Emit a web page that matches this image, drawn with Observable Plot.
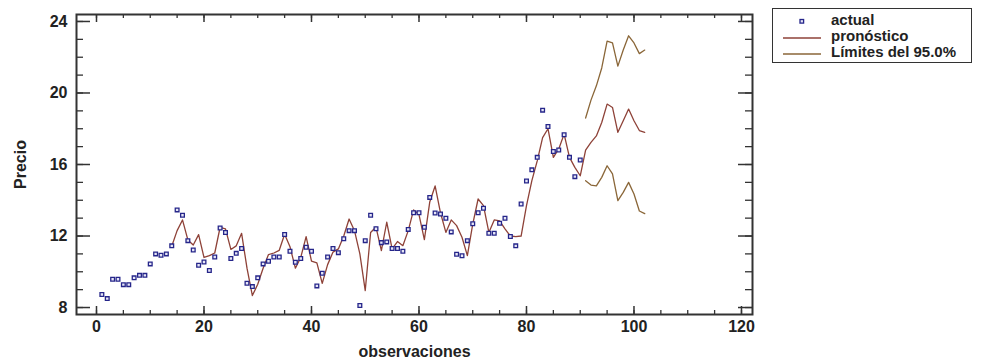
<!DOCTYPE html>
<html>
<head>
<meta charset="utf-8">
<script src="https://cdn.jsdelivr.net/npm/d3@7"></script>
<script src="https://cdn.jsdelivr.net/npm/@observablehq/plot@0.6"></script>
<style>
  html, body { margin: 0; padding: 0; background: #fff; }
  #wrap { position: relative; width: 981px; height: 358px; overflow: hidden; }
  #legend {
    position: absolute; left: 772px; top: 8px; width: 200px; height: 55px;
    border: 1.5px solid #333; box-sizing: border-box; background: #fff;
    font: bold 15px "Liberation Sans", Arial, sans-serif; color: #222;
  }
  .row { position: absolute; left: 0; height: 16px; width: 100%; }
  .row svg { position: absolute; left: 6px; top: 0; }
  .row span { position: absolute; left: 58px; top: -1px; white-space: nowrap; line-height: 16px; }
</style>
</head>
<body>
<div id="wrap"></div>
<script>
// ---- data ----
const actualPrice = [
  8.73, 8.5, 9.58, 9.58, 9.28, 9.28, 9.66, 9.8, 9.8, 10.44,
  11.0, 10.92, 11.0, 11.45, 13.46, 13.16, 11.74, 11.22, 10.36, 10.55,
  10.07, 10.83, 12.45, 12.2, 10.74, 11.03, 11.3, 9.36, 9.17, 9.66,
  10.44, 10.59, 10.83, 10.83, 12.08, 11.15, 10.53, 10.74, 11.37, 11.15,
  9.21, 9.92, 10.83, 11.3, 11.07, 11.85, 12.3, 12.3, 8.11, 11.74,
  13.16, 12.41, 11.63, 11.67, 11.3, 11.3, 11.15, 12.37, 13.3, 13.3,
  12.49, 14.16, 13.29, 13.23, 12.99, 12.23, 10.98, 10.9, 11.74, 12.69,
  13.3, 13.55, 12.15, 12.15, 12.71, 12.99, 11.97, 11.45, 13.79, 15.08,
  15.7, 16.4, 19.04, 18.13, 16.73, 16.81, 17.66, 16.4, 15.32, 16.25
];
const actualStart = 1;

const forecastPrice = [
  11.43, 12.3, 12.9, 11.78, 11.5, 12.08, 10.8, 10.9, 11.05, 12.49,
  12.4, 11.25, 11.45, 12.15, 10.2, 8.67, 9.3, 10.2, 10.96, 11.05,
  11.2, 12.1, 11.4, 10.2, 10.8, 11.97, 10.6, 10.5, 9.35, 10.4,
  11.1, 11.28, 12.0, 12.95, 12.3, 11.0, 8.95, 12.2, 12.5, 11.18,
  12.77, 11.28, 11.69, 11.46, 12.3, 13.46, 13.2, 11.8, 13.9, 14.8,
  13.3, 12.2, 12.9, 12.58, 11.93, 10.9, 12.67, 14.07, 13.7, 12.2,
  12.9, 12.85, 12.4, 12.0, 11.97, 12.0, 13.7, 15.1, 16.2, 17.5,
  18.0, 16.4, 16.87, 17.7, 16.4, 15.84, 15.37, 16.8, 17.24, 17.6,
  18.35, 19.38, 19.19, 17.8, 18.45, 19.1, 18.45, 17.9, 17.8
];
const forecastStart = 14;

const upperLimit = [18.6, 19.6, 20.4, 21.4, 22.9, 22.8, 21.5, 22.4, 23.2, 22.8, 22.2, 22.4];
const lowerLimit = [15.09, 14.85, 14.8, 15.28, 15.93, 15.47, 13.98, 14.44, 15.0, 14.35, 13.4, 13.25];
const limitStart = 91;

const xMajorTicks = [0, 20, 40, 60, 80, 100, 120];
const xMinorTicks = [0,5,10,15,20,25,30,35,40,45,50,55,60,65,70,75,80,85,90,95,100,105,110,115,120];
const yMajorTicks = [8, 12, 16, 20, 24];
const yMinorTicks = [8,9,10,11,12,13,14,15,16,17,18,19,20,21,22,23,24];

const legendLabels = ["actual", "pronóstico", "Límites del 95.0%"];

// ---- build tables ----
const actualData = actualPrice.map((v, i) => ({obs: actualStart + i, v}));
const forecastData = forecastPrice.map((v, i) => ({obs: forecastStart + i, v}));
const upperData = upperLimit.map((v, i) => ({obs: limitStart + i, v}));
const lowerData = lowerLimit.map((v, i) => ({obs: limitStart + i, v}));

// ---- styles ----
const W = 981, H = 358;
const mL = 76, mR = 229, mT = 14, mB = 44;
const pW = W - mL - mR, pH = H - mT - mB;
const frameColor = "#333";
const pointColor = "#26268a";
const forecastColor = "#8e4238";
const limitColor = "#8a6638";
const font = '"Liberation Sans", Arial, sans-serif';

const chart = Plot.plot({
  width: W, height: H,
  marginLeft: mL, marginRight: mR, marginTop: mT, marginBottom: mB,
  style: {fontFamily: font, fontSize: "16px", fontWeight: "bold", color: "#222", background: "#fff"},
  x: {domain: [-3.72, 122.05]},
  y: {domain: [7.61, 24.39]},
  marks: [
    Plot.axisX(xMajorTicks, {tickSize: 0, tickPadding: 6, label: "observaciones", labelAnchor: "center", labelOffset: 42, labelArrow: "none", fontSize: 16, fontWeight: "bold"}),
    Plot.axisY(yMajorTicks, {tickSize: 0, tickPadding: 9, label: "Precio", labelAnchor: "center", labelOffset: 62, labelArrow: "none", fontSize: 16, fontWeight: "bold"}),
    // inward ticks, all four sides
    Plot.tickX(xMinorTicks, {x: d => d, insetTop: pH - 4, stroke: frameColor, strokeWidth: 1.3}),
    Plot.tickX(xMajorTicks, {x: d => d, insetTop: pH - 8, stroke: frameColor, strokeWidth: 1.5}),
    Plot.tickX(xMinorTicks, {x: d => d, insetBottom: pH - 4, stroke: frameColor, strokeWidth: 1.3}),
    Plot.tickX(xMajorTicks, {x: d => d, insetBottom: pH - 8, stroke: frameColor, strokeWidth: 1.5}),
    Plot.tickY(yMinorTicks, {y: d => d, insetRight: pW - 7, stroke: frameColor, strokeWidth: 1.3}),
    Plot.tickY(yMajorTicks, {y: d => d, insetRight: pW - 14, stroke: frameColor, strokeWidth: 1.5}),
    Plot.tickY(yMinorTicks, {y: d => d, insetLeft: pW - 7, stroke: frameColor, strokeWidth: 1.3}),
    Plot.tickY(yMajorTicks, {y: d => d, insetLeft: pW - 14, stroke: frameColor, strokeWidth: 1.5}),
    Plot.line(upperData, {x: "obs", y: "v", stroke: limitColor, strokeWidth: 1.3}),
    Plot.line(lowerData, {x: "obs", y: "v", stroke: limitColor, strokeWidth: 1.3}),
    Plot.line(forecastData, {x: "obs", y: "v", stroke: forecastColor, strokeWidth: 1.3}),
    Plot.dot(actualData, {x: "obs", y: "v", symbol: "square", r: 2.1, stroke: pointColor, strokeWidth: 1.3, fill: "#e6e6f6"}),
    Plot.frame({stroke: frameColor, strokeWidth: 2})
  ]
});

const wrap = document.getElementById("wrap");
wrap.appendChild(chart);

// legend (inside the chart area, right side)
const legend = document.createElement("div");
legend.id = "legend";
const kinds = ["dot", "forecast", "limit"];
legendLabels.forEach((lab, i) => {
  const row = document.createElement("div");
  row.className = "row";
  row.style.top = (4 + i * 16) + "px";
  const s = d3.create("svg").attr("width", 50).attr("height", 16);
  if (kinds[i] === "dot") {
    s.append("rect").attr("x", 21).attr("y", 6.5).attr("width", 3.6).attr("height", 3.6)
      .attr("fill", "#e6e6f6").attr("stroke", pointColor).attr("stroke-width", 1.3);
  } else {
    s.append("line").attr("x1", 4).attr("x2", 42).attr("y1", 9).attr("y2", 9)
      .attr("stroke", kinds[i] === "forecast" ? forecastColor : limitColor).attr("stroke-width", 1.5);
  }
  row.appendChild(s.node());
  const t = document.createElement("span");
  t.textContent = lab;
  row.appendChild(t);
  legend.appendChild(row);
});
wrap.appendChild(legend);
</script>
</body>
</html>
